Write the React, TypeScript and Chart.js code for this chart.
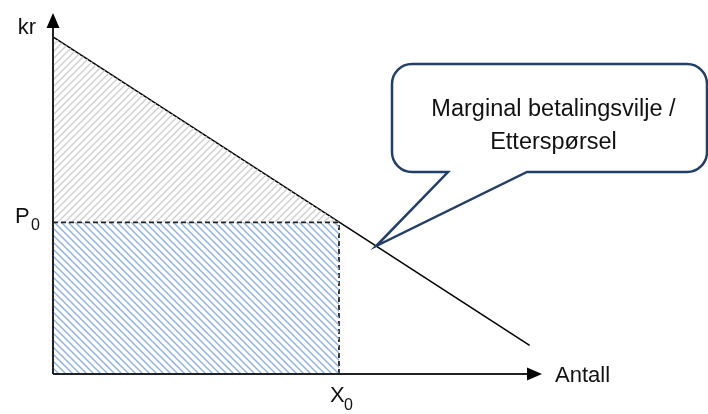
import { useEffect, useRef } from "react";
import { Chart, registerables } from "chart.js";

Chart.register(...registerables);

// Demand curve (marginal willingness to pay): quantity -> price
const demandQ = [0, 10];
const demandP = [10, 0.85];

// Chosen point on the curve
const pointQ = 6; // X0
const pointP = 4.5; // P0

// Visible extent of the two axes (arrow tips)
const axisMaxQ = 10.26;
const axisMaxP = 10.71;

// Where the speech bubble points on the demand curve
const calloutQ = 6.78;
const calloutLines = ["Marginal betalingsvilje /", "Etterspørsel"];

const priceAxisLabel = "kr";
const quantityAxisLabel = "Antall";
const priceTickLabel = ["P", "0"];
const quantityTickLabel = ["X", "0"];

const FONT = "'Liberation Sans', Arial, sans-serif";

function priceOnDemand(q: number): number {
  const t = (q - demandQ[0]) / (demandQ[1] - demandQ[0]);
  return demandP[0] + t * (demandP[1] - demandP[0]);
}

function makeHatch(color: string, rising: boolean): CanvasPattern | string {
  const s = 7;
  const c = document.createElement("canvas");
  c.width = s;
  c.height = s;
  const g = c.getContext("2d");
  if (!g) return color;
  g.strokeStyle = color;
  g.lineWidth = 1.4;
  g.beginPath();
  if (rising) {
    g.moveTo(0, s);
    g.lineTo(s, 0);
    g.moveTo(-1, 1);
    g.lineTo(1, -1);
    g.moveTo(s - 1, s + 1);
    g.lineTo(s + 1, s - 1);
  } else {
    g.moveTo(0, 0);
    g.lineTo(s, s);
    g.moveTo(-1, s - 1);
    g.lineTo(1, s + 1);
    g.moveTo(s - 1, -1);
    g.lineTo(s + 1, 1);
  }
  g.stroke();
  const p = g.createPattern(c, "repeat");
  return p ?? color;
}

const overlayPlugin = {
  id: "economicsOverlay",
  afterDatasetsDraw(chart: any) {
    const ctx: CanvasRenderingContext2D = chart.ctx;
    const xs = chart.scales.x;
    const ys = chart.scales.y;
    const ox = xs.getPixelForValue(0);
    const oy = ys.getPixelForValue(0);
    const tipY = ys.getPixelForValue(axisMaxP);
    const tipX = xs.getPixelForValue(axisMaxQ);

    ctx.save();
    // axes
    ctx.strokeStyle = "#222";
    ctx.lineWidth = 2;
    ctx.beginPath();
    ctx.moveTo(ox, oy);
    ctx.lineTo(ox, tipY + 12);
    ctx.moveTo(ox, oy);
    ctx.lineTo(tipX - 12, oy);
    ctx.stroke();

    ctx.fillStyle = "#000";
    ctx.beginPath();
    ctx.moveTo(ox, tipY);
    ctx.lineTo(ox - 6.5, tipY + 15);
    ctx.lineTo(ox + 6.5, tipY + 15);
    ctx.closePath();
    ctx.fill();
    ctx.beginPath();
    ctx.moveTo(tipX, oy);
    ctx.lineTo(tipX - 15, oy - 6.5);
    ctx.lineTo(tipX - 15, oy + 6.5);
    ctx.closePath();
    ctx.fill();

    // axis labels
    ctx.fillStyle = "#111";
    ctx.font = `22px ${FONT}`;
    ctx.textBaseline = "alphabetic";
    ctx.textAlign = "right";
    ctx.fillText(priceAxisLabel, ox - 17, tipY + 21);
    ctx.textAlign = "left";
    ctx.fillText(quantityAxisLabel, tipX + 13, oy + 8);

    // P0 label
    const py = ys.getPixelForValue(pointP);
    ctx.textAlign = "left";
    ctx.font = `22px ${FONT}`;
    ctx.fillText(priceTickLabel[0], 15, py + 1);
    ctx.font = `16px ${FONT}`;
    ctx.fillText(priceTickLabel[1], 31, py + 8);

    // X0 label
    const px = xs.getPixelForValue(pointQ);
    ctx.font = `22px ${FONT}`;
    ctx.fillText(quantityTickLabel[0], px - 9, oy + 28);
    ctx.font = `16px ${FONT}`;
    ctx.fillText(quantityTickLabel[1], px + 5, oy + 36);

    // speech bubble
    const ax = xs.getPixelForValue(calloutQ);
    const ay = ys.getPixelForValue(priceOnDemand(calloutQ));
    const L = 392;
    const T = 64;
    const R = 707;
    const B = 172;
    const r = 20;
    const baseA = 448;
    const baseB = 527;
    ctx.beginPath();
    ctx.moveTo(L + r, T);
    ctx.lineTo(R - r, T);
    ctx.arcTo(R, T, R, T + r, r);
    ctx.lineTo(R, B - r);
    ctx.arcTo(R, B, R - r, B, r);
    ctx.lineTo(baseB, B);
    ctx.lineTo(ax, ay);
    ctx.lineTo(baseA, B);
    ctx.lineTo(L + r, B);
    ctx.arcTo(L, B, L, B - r, r);
    ctx.lineTo(L, T + r);
    ctx.arcTo(L, T, L + r, T, r);
    ctx.closePath();
    ctx.fillStyle = "#ffffff";
    ctx.fill();
    ctx.strokeStyle = "#213f68";
    ctx.lineWidth = 2.5;
    ctx.lineJoin = "miter";
    ctx.stroke();

    ctx.fillStyle = "#111";
    ctx.font = `23.5px ${FONT}`;
    ctx.textAlign = "center";
    const cx = (L + R) / 2 + 4;
    ctx.fillText(calloutLines[0], cx, 116);
    ctx.fillText(calloutLines[1], cx, 149);
    ctx.restore();
  },
};

export default function App() {
  const ref = useRef<HTMLCanvasElement | null>(null);

  useEffect(() => {
    const canvas = ref.current;
    if (!canvas) return;
    const blueHatch = makeHatch("#8eb0e2", false);
    const greyHatch = makeHatch("#cfcfcf", true);

    const chart = new Chart(canvas, {
      type: "scatter",
      data: {
        datasets: [
          {
            // P0 level, filled down to the quantity axis
            data: [
              { x: 0, y: pointP },
              { x: pointQ, y: pointP },
            ],
            showLine: true,
            borderColor: "#222",
            borderWidth: 1.8,
            borderDash: [5, 3],
            pointRadius: 0,
            backgroundColor: blueHatch as any,
            fill: "origin",
          },
          {
            // area between demand and P0
            data: [
              { x: demandQ[0], y: demandP[0] },
              { x: pointQ, y: priceOnDemand(pointQ) },
            ],
            showLine: true,
            borderWidth: 0,
            borderColor: "rgba(0,0,0,0)",
            pointRadius: 0,
            backgroundColor: greyHatch as any,
            fill: 0,
          },
          {
            // demand curve
            data: demandQ.map((q, i) => ({ x: q, y: demandP[i] })),
            showLine: true,
            borderColor: "#000",
            borderWidth: 1.5,
            pointRadius: 0,
            fill: false,
          },
          {
            // X0 drop line
            data: [
              { x: pointQ, y: 0 },
              { x: pointQ, y: pointP },
            ],
            showLine: true,
            borderColor: "#222",
            borderWidth: 1.8,
            borderDash: [5, 3],
            pointRadius: 0,
            fill: false,
          },
        ],
      },
      options: {
        responsive: false,
        animation: false,
        layout: { padding: { left: 53, right: 166, top: 13, bottom: 40 } },
        plugins: {
          legend: { display: false },
          tooltip: { enabled: false },
        },
        scales: {
          x: { type: "linear", min: 0, max: axisMaxQ, display: false },
          y: { type: "linear", min: 0, max: axisMaxP, display: false },
        },
      },
      plugins: [overlayPlugin],
    });
    return () => chart.destroy();
  }, []);

  return (
    <div style={{ position: "fixed", left: 0, top: 0, width: 708, height: 414, background: "#fff" }}>
      <canvas ref={ref} width={708} height={414} />
    </div>
  );
}
